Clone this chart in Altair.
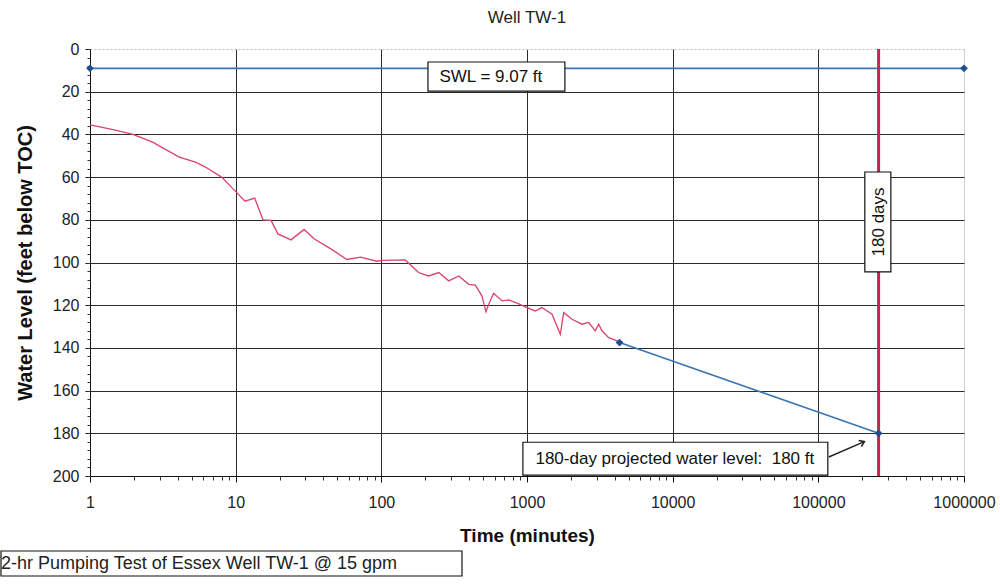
import altair as alt
import pandas as pd

FONT = "Liberation Sans"

# Observed water level during the 72-hour pumping test
time_min = [1.0, 1.44, 1.97, 2.69, 4.1, 5.3, 6.2, 8.0, 9.6, 11.6, 13.5, 15.4, 17.5,
            19.5, 24, 29.5, 34.5, 45, 58, 72, 93, 100, 146, 180, 211, 248, 290, 340,
            398, 442, 490, 523, 546, 590, 674, 748, 854, 1000, 1140, 1267, 1485,
            1694, 1786, 2037, 2388, 2651, 2944, 3104, 3273, 3638, 4150, 4320]
level_ft = [35.5, 37.8, 40.0, 43.6, 50.6, 53.0, 55.3, 60.0, 65.5, 71.3, 69.8, 80.0,
            80.3, 86.6, 89.4, 84.5, 88.9, 93.6, 98.6, 97.5, 99.4, 99.0, 98.8, 104.7,
            106.3, 104.7, 108.6, 106.3, 110.2, 110.6, 115.6, 123.1, 119.5, 114.4,
            118.0, 117.5, 119.0, 121.1, 122.7, 121.1, 124.2, 133.6, 123.4, 126.6,
            128.9, 128.1, 132.0, 128.9, 132.0, 135.2, 136.7, 137.5]

# Static water level
swl_time = [1, 1000000]
swl_level = [9.07, 9.07]

# Projection from end of test (72 hr) to 180 days
proj_time = [4320, 259200]
proj_level = [137.5, 180]

days180_min = 259200

x_ticks = [1, 10, 100, 1000, 10000, 100000, 1000000]
x_minor = [m * d for d in [1, 10, 100, 1000, 10000, 100000] for m in range(2, 10)]
y_ticks = list(range(0, 201, 20))
y_minor = list(range(0, 201, 4))

W, H = 874, 427

xs = alt.Scale(type="log", domain=[1, 1000000], nice=False)
ys = alt.Scale(domain=[0, 200], reverse=True, nice=False)

x_axis = alt.Axis(
    values=x_ticks, format="d", title="Time (minutes)",
    labelFont=FONT, labelFontSize=16, labelColor="#222", labelFlush=False,
    labelPadding=12, tickSize=6, tickColor="#111", domainColor="#111",
    gridColor={"condition": {"test": "datum.value == 1000000", "value": "#d0d0d0"},
               "value": "#2b2b2b"},
    titleFont=FONT, titleFontSize=19, titleFontWeight="bold", titleColor="#111",
    titlePadding=16,
)
y_axis = alt.Axis(
    values=y_ticks, title="Water Level (feet below TOC)",
    labelFont=FONT, labelFontSize=16, labelColor="#222",
    labelPadding=6, tickSize=5, tickColor="#111", domainColor="#111",
    gridColor={"condition": {"test": "datum.value == 0", "value": "#bdbdbd"},
               "value": "#2b2b2b"},
    gridDash={"condition": {"test": "datum.value == 0", "value": [2, 2]},
              "value": []},
    titleFont=FONT, titleFontSize=20, titleFontWeight="bold", titleColor="#111",
    titlePadding=17,
)


def X(field):
    return alt.X(f"{field}:Q", scale=xs, axis=x_axis)


def Y(field):
    return alt.Y(f"{field}:Q", scale=ys, axis=y_axis)


obs = pd.DataFrame({"t": time_min, "v": level_ft})
swl = pd.DataFrame({"t": swl_time, "v": swl_level})
proj = pd.DataFrame({"t": proj_time, "v": proj_level})
vline = pd.DataFrame({"t": [days180_min], "v": [0], "v2": [200]})

BLUE = "#3a76b2"
DIAMOND = "#1f4f8f"
RED = "#d8436b"
CRIMSON = "#c8244f"

swl_line = alt.Chart(swl).mark_line(color=BLUE, strokeWidth=1.6).encode(x=X("t"), y=Y("v"))
swl_pts = alt.Chart(swl).mark_point(shape="diamond", filled=True, color=DIAMOND,
                                    size=60, opacity=1).encode(x=X("t"), y=Y("v"))
obs_line = alt.Chart(obs).mark_line(color=RED, strokeWidth=1.3).encode(x=X("t"), y=Y("v"))
proj_line = alt.Chart(proj).mark_line(color=BLUE, strokeWidth=1.6).encode(x=X("t"), y=Y("v"))
proj_pts = alt.Chart(proj).mark_point(shape="diamond", filled=True, color=DIAMOND,
                                      size=60, opacity=1).encode(x=X("t"), y=Y("v"))
day_rule = alt.Chart(vline).mark_rule(color=CRIMSON, strokeWidth=3).encode(
    x=X("t"), y=Y("v"), y2="v2:Q")

# Annotation boxes (data coordinates)
boxes = pd.DataFrame({
    "x1": [209, 208500, 937],
    "x2": [1820, 314700, 116200],
    "y1": [6.1, 57.6, 184.2],
    "y2": [19.7, 104.4, 199.6],
})
box_marks = alt.Chart(boxes).mark_rect(fill="white", stroke="#111", strokeWidth=1.2).encode(
    x=X("x1"), x2="x2:Q", y=Y("y1"), y2="y2:Q")

labels = pd.DataFrame({
    "t": [565, 259200, 10350],
    "v": [12.9, 81.0, 192.0],
    "text": ["SWL = 9.07 ft", "180 days", "180-day projected water level:\u00a0\u00a0180 ft"],
    "angle": [0, 270, 0],
})
label_marks = alt.Chart(labels).mark_text(
    font=FONT, fontSize=17, color="#111", baseline="middle", align="center"
).encode(x=X("t"), y=Y("v"), text="text:N", angle=alt.Angle("angle:Q", scale=None))

arrow = pd.DataFrame({"t": [118000, 207000], "v": [191.1, 183.9]})
arrow_line = alt.Chart(arrow).mark_line(color="#222", strokeWidth=1.4).encode(x=X("t"), y=Y("v"))
arrow_head = alt.Chart(arrow.tail(1)).mark_point(
    shape="M -1 -0.7 L 0 0 L -1 0.7", filled=False, color="#222", strokeWidth=1.6,
    size=90, angle=336, opacity=1).encode(x=X("t"), y=Y("v"))

# Caption box below the chart
caption = pd.DataFrame({"text": ["72-hr Pumping Test of Essex Well TW-1 @ 15 gpm"]})
cap_box = alt.Chart(caption).mark_rect(fill="white", stroke="#111", strokeWidth=1.2).encode(
    x=alt.value(-89), x2=alt.value(372), y=alt.value(502), y2=alt.value(527))
cap_text = alt.Chart(caption).mark_text(
    font=FONT, fontSize=18, color="#222", align="left", baseline="middle"
).encode(text="text:N", x=alt.value(-99), y=alt.value(515))

main = alt.layer(
    obs_line, swl_line, proj_line, day_rule,
    box_marks, label_marks, arrow_line, arrow_head,
    swl_pts, proj_pts,
)

minor_x_axis = alt.Axis(values=x_minor, labels=False, grid=False, domain=False,
                        tickSize=4, tickColor="#333", title=None, orient="bottom")
minor_y_axis = alt.Axis(values=y_minor, labels=False, grid=False, domain=False,
                        tickSize=3, tickColor="#333", title=None, orient="left")
minor = alt.Chart(swl).mark_point(opacity=0).encode(
    x=alt.X("t:Q", scale=xs, axis=minor_x_axis),
    y=alt.Y("v:Q", scale=ys, axis=minor_y_axis),
)

chart = alt.layer(main, minor, cap_box, cap_text).resolve_axis(
    x="independent", y="independent"
).properties(
    width=W, height=H,
    title=alt.TitleParams("Well TW-1", font=FONT, fontSize=17, fontWeight="normal",
                          color="#222", anchor="middle", offset=14),
    autosize="none",
    padding={"left": 90, "top": 49, "right": 36, "bottom": 108},
    background="white",
).configure_view(stroke=None)

chart.save("out.html", embed_options={"renderer": "svg", "actions": False})
